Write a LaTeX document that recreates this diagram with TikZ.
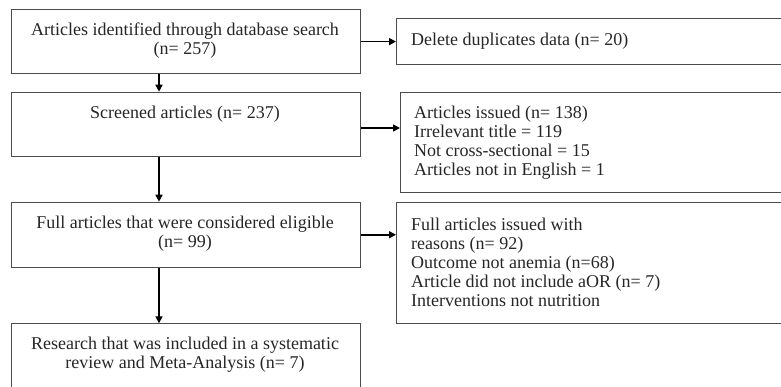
\documentclass[tikz,border=0pt]{standalone}
\usepackage{fontspec}
\setmainfont{Liberation Serif}
\usetikzlibrary{arrows.meta}
\begin{document}
\begin{tikzpicture}[x=1pt,y=-1pt,
  box/.style={draw=black!70, line width=1.1pt, inner sep=0pt, anchor=north west},
  ctext/.style={align=center, font=\fontsize{18}{19}\selectfont, text=black!85, inner sep=0pt},
  ltext/.style={align=left, font=\fontsize{18}{19}\selectfont, text=black!85, inner sep=0pt, anchor=west},
  flow/.style={line width=1.6pt, -{Triangle[length=7pt,width=7pt]}}]
\useasboundingbox (0,0) rectangle (781,386);
\clip (0,0) rectangle (781,386);
% left column
\node[box, minimum width=349pt, minimum height=63.5pt] (b1) at (11,9.3) {};
\node[box, minimum width=349pt, minimum height=64pt] (b2) at (11,91.7) {};
\node[box, minimum width=349pt, minimum height=65pt] (b3) at (11,201.7) {};
\node[box, minimum width=349pt, minimum height=90pt] (b4) at (11,323.3) {};
% right column
\node[box, minimum width=420pt, minimum height=45.7pt] (r1) at (396,18.3) {};
\node[box, minimum width=420pt, minimum height=100pt] (r2) at (400,91.7) {};
\node[box, minimum width=420pt, minimum height=121.3pt] (r3) at (396,202) {};
% texts
\node[ctext] (t1) at (185,40.5) {Articles identified through database search\\(n= 257)};
\node[ctext] (t2) at (185,114) {Screened articles (n= 237)};
\node[ctext] (t3) at (185,233.5) {Full articles that were considered eligible\\(n= 99)};
\node[ctext] (t4) at (185,354.5) {Research that was included in a systematic\\review and Meta-Analysis (n= 7)};
\node[ltext] (s1) at (411,41) {Delete duplicates data (n= 20)};
\node[ltext] (s2) at (414,143) {Articles issued (n= 138)\\Irrelevant title = 119\\Not cross-sectional = 15\\Articles not in English = 1};
\node[ltext] (s3) at (411,262) {Full articles issued with\\reasons (n= 92)\\Outcome not anemia (n=68)\\Article did not include aOR (n= 7)\\Interventions not nutrition};
% arrows
\coordinate (ax) at (159,0);
\coordinate (a2) at (0,128);
\draw[flow] (b1.south -| ax) -- (b2.north -| ax);
\draw[flow] (b2.south -| ax) -- (b3.north -| ax);
\draw[flow] (b3.south -| ax) -- (b4.north -| ax);
\draw[flow] (b1.east) -- (b1.east -| r1.west);
\draw[flow] (b2.east |- a2) -- (r2.west |- a2);
\draw[flow] (b3.east) -- (b3.east -| r3.west);
\end{tikzpicture}
\end{document}
